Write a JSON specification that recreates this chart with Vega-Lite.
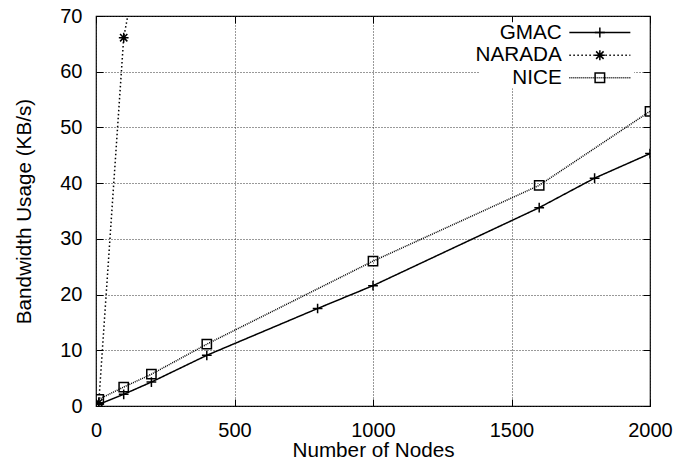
{
  "$schema": "https://vega.github.io/schema/vega-lite/v6.json",
  "width": 554,
  "height": 390,
  "autosize": {"type": "none"},
  "padding": {"left": 96, "top": 16, "right": 27, "bottom": 64},
  "background": "white",
  "config": {
    "view": {"stroke": "black", "strokeWidth": 1.2},
    "font": "Liberation Sans",
    "axis": {
      "labelFont": "Liberation Sans",
      "labelFontSize": 20,
      "labelColor": "black",
      "titleFont": "Liberation Sans",
      "titleFontSize": 20.7,
      "titleFontWeight": "normal",
      "titleColor": "black",
      "tickColor": "black",
      "tickSize": -7,
      "tickWidth": 1,
      "domain": false,
      "gridColor": "#333333",
      "gridDash": [1, 2],
      "gridWidth": 1,
      "gridOpacity": 1,
      "labelPadding": 21,
      "labelFlush": false,
      "labelOverlap": false,
      "format": "d"
    }
  },
  "data": {
    "values": [
      {"series": "GMAC", "nodes": 10, "bw": 0.3},
      {"series": "GMAC", "nodes": 100, "bw": 2.1},
      {"series": "GMAC", "nodes": 200, "bw": 4.3},
      {"series": "GMAC", "nodes": 400, "bw": 9.1},
      {"series": "GMAC", "nodes": 800, "bw": 17.5},
      {"series": "GMAC", "nodes": 1000, "bw": 21.6},
      {"series": "GMAC", "nodes": 1600, "bw": 35.6},
      {"series": "GMAC", "nodes": 1800, "bw": 40.9},
      {"series": "GMAC", "nodes": 2000, "bw": 45.3},
      {"series": "NARADA", "nodes": 10, "bw": 0.6},
      {"series": "NARADA", "nodes": 100, "bw": 66.1},
      {"series": "NARADA", "nodes": 200, "bw": 93},
      {"series": "NICE", "nodes": 10, "bw": 1.2},
      {"series": "NICE", "nodes": 100, "bw": 3.4},
      {"series": "NICE", "nodes": 200, "bw": 5.7},
      {"series": "NICE", "nodes": 400, "bw": 11.1},
      {"series": "NICE", "nodes": 1000, "bw": 26.0},
      {"series": "NICE", "nodes": 1600, "bw": 39.6},
      {"series": "NICE", "nodes": 2000, "bw": 52.9}
    ]
  },
  "layer": [
    {
      "mark": {"type": "line", "clip": true, "color": "black"},
      "encoding": {
        "x": {
          "field": "nodes", "type": "quantitative",
          "scale": {"domain": [0, 2000], "nice": false},
          "axis": {"orient": "bottom", "values": [0, 500, 1000, 1500, 2000], "title": "Number of Nodes", "grid": true, "titlePadding": 0}
        },
        "y": {
          "field": "bw", "type": "quantitative",
          "scale": {"domain": [0, 70], "nice": false},
          "axis": {"orient": "left", "values": [0, 10, 20, 30, 40, 50, 60, 70], "title": "Bandwidth Usage (KB/s)", "grid": true, "titlePadding": 25}
        },
        "strokeDash": {
          "field": "series", "type": "nominal",
          "scale": {"domain": ["GMAC", "NARADA", "NICE"], "range": [[1, 0], [1.5, 2.5], [1, 1]]},
          "legend": {
            "title": null,
            "orient": "none",
            "legendX": 384,
            "legendY": 6.2,
            "padding": 0,
            "fillColor": "white",
            "labelAlign": "right",
            "labelOffset": -48.5,
            "symbolOffset": 109.5,
            "labelFont": "Liberation Sans",
            "labelFontSize": 20.7,
            "labelColor": "black",
            "labelLimit": 300,
            "rowPadding": 0.6,
            "symbolType": "M-6.1,0H6.1",
            "symbolSize": 100,
            "symbolStrokeWidth": 1.3,
            "symbolStrokeColor": "black",
            "symbolFillColor": "transparent"
          }
        },
        "strokeWidth": {
          "field": "series", "type": "nominal",
          "scale": {"domain": ["GMAC", "NARADA", "NICE"], "range": [1.5, 1.5, 1]},
          "legend": null
        }
      }
    },
    {
      "mark": {"type": "point", "clip": true, "filled": false, "color": "black", "strokeWidth": 1.5, "opacity": 1, "size": 95},
      "encoding": {
        "x": {
          "field": "nodes", "type": "quantitative",
          "axis": {"orient": "top", "values": [0, 500, 1000, 1500, 2000], "title": null, "labels": false, "grid": false}
        },
        "y": {
          "field": "bw", "type": "quantitative",
          "axis": {"orient": "right", "values": [0, 10, 20, 30, 40, 50, 60, 70], "title": null, "labels": false, "grid": false}
        },
        "shape": {
          "field": "series", "type": "nominal",
          "scale": {"range": [
            "M-1,0H1M0,-1V1",
            "M-1,0H1M0,-1V1M-0.75,-0.75L0.75,0.75M-0.75,0.75L0.75,-0.75",
            "M-0.95,-0.95H0.95V0.95H-0.95Z"
          ]},
          "legend": {
            "title": null,
            "orient": "none",
            "legendX": 384,
            "legendY": 6.2,
            "padding": 0,
            "labelAlign": "right",
            "labelOffset": -48.5,
            "symbolOffset": 109.5,
            "labelFont": "Liberation Sans",
            "labelFontSize": 20.7,
            "labelOpacity": 0,
            "labelLimit": 300,
            "rowPadding": 0.6,
            "symbolSize": 100,
            "symbolStrokeWidth": 1.5,
            "symbolStrokeColor": "black",
            "symbolFillColor": "white"
          }
        }
      }
    }
  ],
  "resolve": {"axis": {"x": "independent", "y": "independent"}}
}
